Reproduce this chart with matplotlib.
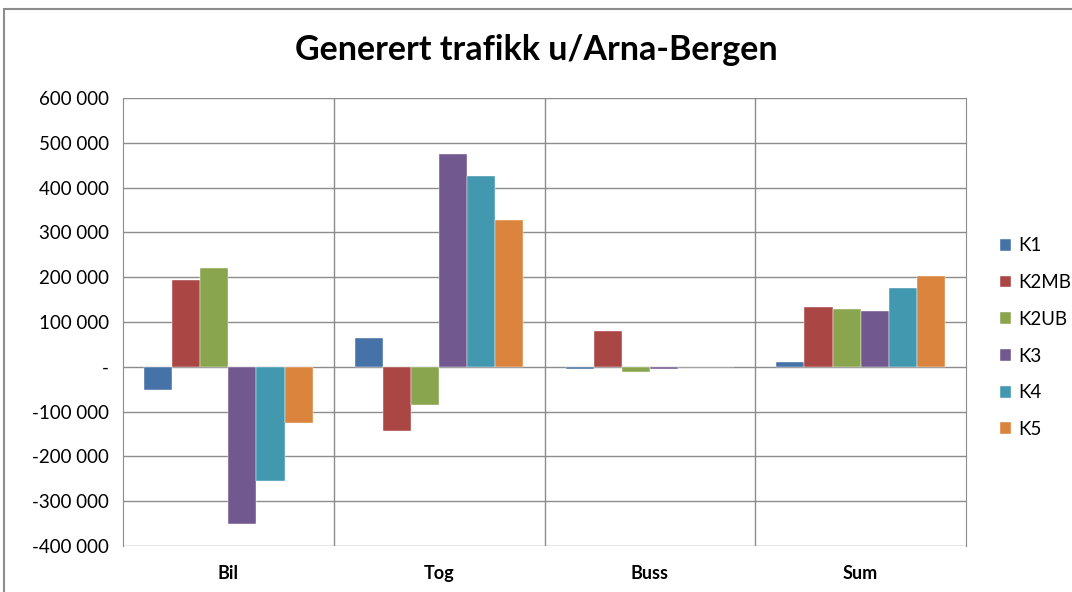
import numpy as np
import matplotlib.pyplot as plt
from matplotlib.patches import Rectangle
from matplotlib.ticker import FuncFormatter

kategorier = ['Bil', 'Tog', 'Buss', 'Sum']
serier = ['K1', 'K2MB', 'K2UB', 'K3', 'K4', 'K5']
k1 = [-52000, 64000, -4000, 10000]
k2mb = [194000, -143000, 80000, 133000]
k2ub = [220000, -85000, -11000, 130000]
k3 = [-351000, 475000, -4000, 124000]
k4 = [-255000, 426000, 0, 175000]
k5 = [-125000, 328000, 0, 203000]
verdier = [k1, k2mb, k2ub, k3, k4, k5]
farger = ['#4572A7', '#AA4643', '#89A54E', '#71588F', '#4198AF', '#DB843D']

plt.rcParams['font.family'] = ['Lato', 'DejaVu Sans']

fig = plt.figure(figsize=(10.72, 5.92), dpi=100)
fig.patches.append(Rectangle((4 / 1072, -0.1), 1.1, 1.1 - 9 / 592, transform=fig.transFigure,
                             fill=False, edgecolor='#8c8c8c', linewidth=1.5))
ax = fig.add_axes([123 / 1072, 1 - 546 / 592, (966 - 123) / 1072, (546 - 98) / 592])

x = np.arange(len(kategorier))
bredde = 1 / 7.5
for i, (navn, y) in enumerate(zip(serier, verdier)):
    ax.bar(x - 0.4 + bredde * (i + 0.5), y, width=bredde, color=farger[i], label=navn,
           edgecolor='white', linewidth=0.3, zorder=3)

ax.set_xlim(-0.5, 3.5)
ax.set_ylim(-400000, 600000)
ax.set_yticks(np.arange(-400000, 600001, 100000))


def fmt(v, pos):
    if v == 0:
        return '-'
    return f'{int(v):,}'.replace(',', ' ')


ax.yaxis.set_major_formatter(FuncFormatter(fmt))
ax.set_xticks(x)
ax.set_xticklabels(kategorier, fontweight='bold', fontsize=13)
ax.grid(axis='y', color='#8c8c8c', linewidth=1, zorder=0)
for s in [0.5, 1.5, 2.5]:
    ax.axvline(s, color='#8c8c8c', linewidth=1, zorder=0)
for side in ['top', 'bottom']:
    ax.spines[side].set_visible(False)
ax.spines['left'].set_color('#8c8c8c')
ax.spines['right'].set_color('#8c8c8c')
ax.tick_params(axis='y', length=0, labelsize=13.5, pad=10)
ax.tick_params(axis='x', length=0, pad=14)

fig.text(0.5, 1 - 50 / 592, 'Generert trafikk u/Arna-Bergen', ha='center', va='center',
         fontsize=24.5, fontweight='bold')

ax.legend(loc='center left', bbox_to_anchor=(1.02, 0.465), frameon=False, fontsize=13.5,
          handlelength=0.6, handleheight=0.6, labelspacing=1.05, handletextpad=0.4)

fig.savefig('out.png', dpi=100)
